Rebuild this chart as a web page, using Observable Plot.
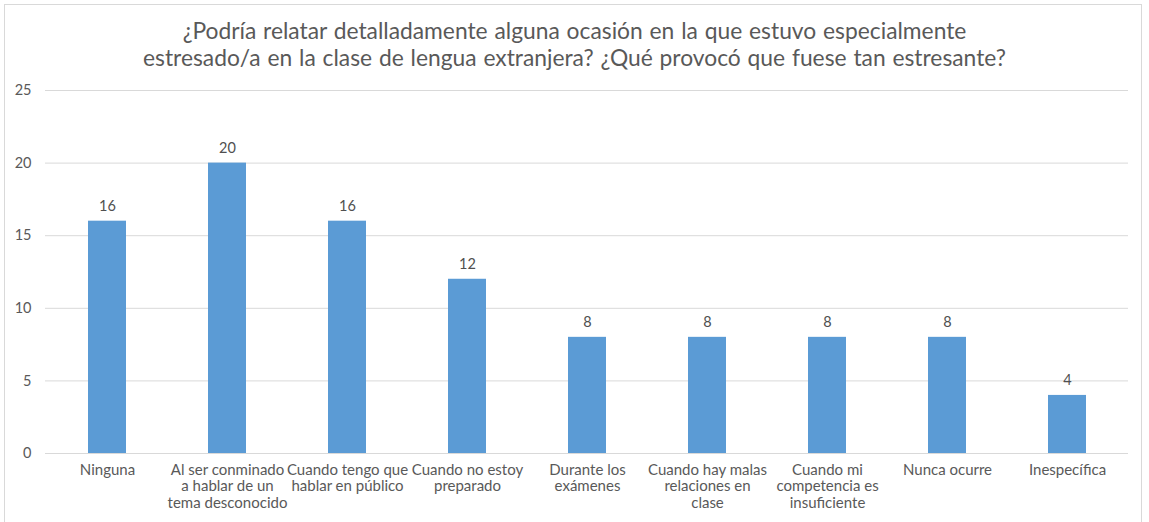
<!DOCTYPE html>
<html>
<head>
<meta charset="utf-8">
<script src="https://cdn.jsdelivr.net/npm/d3@7"></script>
<script src="https://cdn.jsdelivr.net/npm/@observablehq/plot@0.6"></script>
<style>
  html, body { margin: 0; padding: 0; background: #fff; }
  #wrap { position: relative; width: 1149px; height: 522px; overflow: hidden; font-family: Lato, "Open Sans", sans-serif; }
  #frame { position: absolute; left: 4px; top: 4px; width: 1138px; height: 530px; border: 1px solid #d9d9d9; box-sizing: border-box; }
  #title { position: absolute; left: 0; width: 1149px; top: 17px; text-align: center; font-size: 22.8px; line-height: 27px; color: #595959; word-spacing: 1px; }
  #chart { position: absolute; left: 0; top: 0; }
</style>
</head>
<body>
<div id="wrap">
  <div id="frame"></div>
  <div id="chart"></div>
  <div id="title">¿Podría relatar detalladamente alguna ocasión en la que estuvo especialmente<br>estresado/a en la clase de lengua extranjera? ¿Qué provocó que fuese tan estresante?</div>
</div>
<script>
const categories = [
  "Ninguna",
  "Al ser conminado\na hablar de un\ntema desconocido",
  "Cuando tengo que\nhablar en público",
  "Cuando no estoy\npreparado",
  "Durante los\nexámenes",
  "Cuando hay malas\nrelaciones en\nclase",
  "Cuando mi\ncompetencia es\ninsuficiente",
  "Nunca ocurre",
  "Inespecífica"
];
const values = [16, 20, 16, 12, 8, 8, 8, 8, 4];
const yTicks = [0, 5, 10, 15, 20, 25];

const data = categories.map((c, i) => ({category: c, value: values[i]}));

const chart = Plot.plot({
  width: 1149,
  height: 522,
  marginLeft: 45,
  marginRight: 21,
  marginTop: 90,
  marginBottom: 69,
  style: {fontFamily: "Lato, 'Open Sans', sans-serif", fontSize: "15px", color: "#595959", background: "transparent"},
  x: {domain: categories, paddingInner: 0.684, paddingOuter: 0.342, label: null},
  y: {domain: [0, 25], label: null},
  marks: [
    Plot.gridY(yTicks, {stroke: "#d9d9d9", strokeOpacity: 1, strokeWidth: 1}),
    Plot.axisY(yTicks, {tickSize: 0, tickPadding: 14, fill: "#595959", fontSize: 14.5, label: null}),
    Plot.axisX({tickSize: 0, tickPadding: 9, fill: "#595959", fontSize: 15, lineHeight: 1.13, label: null}),
    Plot.barY(data, {x: "category", y: "value", fill: "#5b9bd5"}),
    Plot.text(data, {x: "category", y: "value", text: d => String(d.value), dy: -15, fill: "#505050", fontSize: 14.5})
  ]
});
document.getElementById("chart").appendChild(chart);
</script>
</body>
</html>
